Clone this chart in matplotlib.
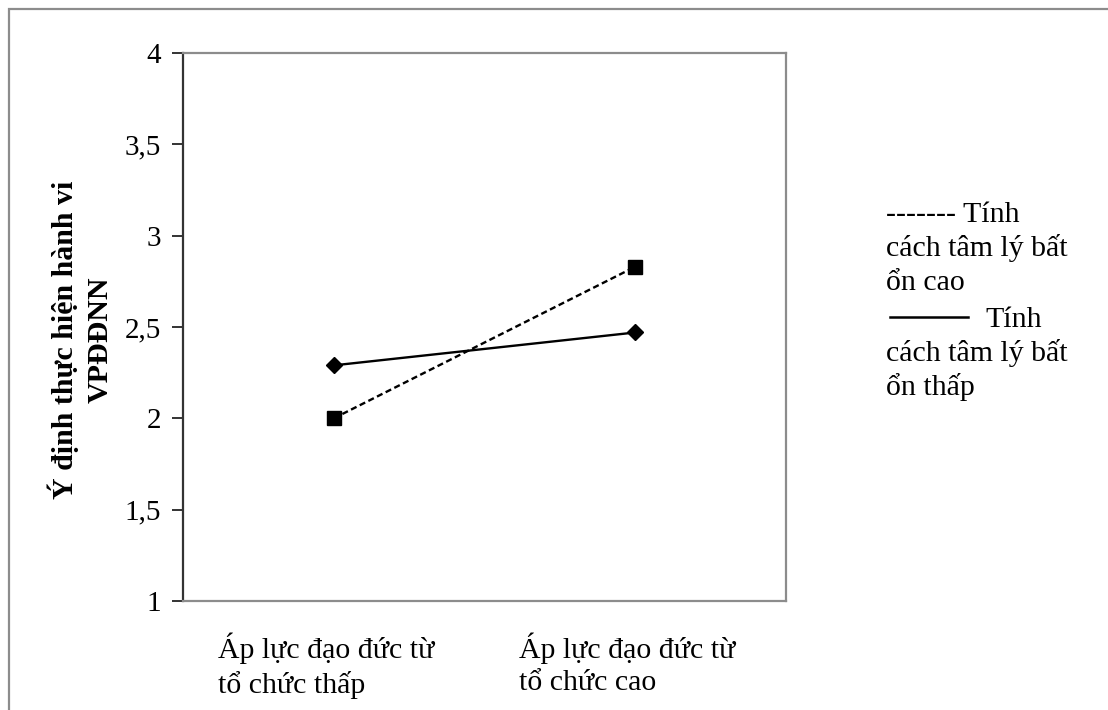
import matplotlib
matplotlib.use('Agg')
import matplotlib.pyplot as plt
from matplotlib.lines import Line2D
from matplotlib.patches import Rectangle
import matplotlib.transforms as mtransforms

plt.rcParams['font.family'] = ['Liberation Serif', 'DejaVu Serif']

categories  = ["Áp lực đạo đức từ\ntổ chức thấp", "Áp lực đạo đức từ\ntổ chức cao"]
high_values = [2.00, 2.83]   # Tính cách tâm lý bất ổn cao (dashed, squares)
low_values  = [2.29, 2.47]   # Tính cách tâm lý bất ổn thấp (solid, diamonds)
y_ticks     = [1, 1.5, 2, 2.5, 3, 3.5, 4]
y_labels    = ["1", "1,5", "2", "2,5", "3", "3,5", "4"]
y_title     = "Ý định thực hiện hành vi\nVPĐĐNN"
legend_text = ["Tính\ncách tâm lý bất\nổn cao", "Tính\ncách tâm lý bất\nổn thấp"]

W, H = 1108, 710
FS = 21.5
fig = plt.figure(figsize=(W / 100, H / 100), dpi=100)
ax = fig.add_axes([183 / W, 1 - 601 / H, (786 - 183) / W, (601 - 53) / H])

# outer frame of the picture (only top and left visible)
fig.add_artist(Rectangle((9 / W, -0.1), 1.2, 1 - 9 / H + 0.1, transform=fig.transFigure,
                         fill=False, edgecolor='#8c8c8c', linewidth=1.6))

xpos = list(range(len(categories)))
ax.plot(xpos, high_values, color='black', linestyle=(0, (2.6, 1.5)), linewidth=1.7,
        marker='s', markersize=10.5, markerfacecolor='black', markeredgecolor='black')
ax.plot(xpos, low_values, color='black', linestyle='-', linewidth=1.7,
        marker='D', markersize=8.5, markerfacecolor='black', markeredgecolor='black')

ax.set_xlim(-0.5, 1.5)
ax.set_ylim(1, 4)
ax.set_yticks(y_ticks, y_labels, fontsize=21)
ax.tick_params(axis='y', direction='out', length=8, width=1.4, colors='#333333', pad=8,
               labelcolor='black')
ax.set_xticks(xpos, categories, fontsize=FS)
ax.tick_params(axis='x', length=0, pad=23)
offset = mtransforms.ScaledTranslation(-1.16, 0, fig.dpi_scale_trans)
for lab in ax.get_xticklabels():
    lab.set_horizontalalignment('left')
    lab.set_multialignment('left')
    lab.set_linespacing(1.3)
    lab.set_transform(lab.get_transform() + offset)

for side in ['top', 'right', 'bottom']:
    ax.spines[side].set_color('#8c8c8c')
    ax.spines[side].set_linewidth(1.6)
ax.spines['left'].set_color('#333333')
ax.spines['left'].set_linewidth(1.6)

ax.set_ylabel(y_title, fontsize=FS, fontweight='bold', linespacing=1.38)
ax.yaxis.set_label_coords(-0.115, 0.476)

# legend drawn as text, like the original (text wraps under the line sample)
line_step = 34
for i, label in enumerate(legend_text):
    lines = label.split('\n')
    y0 = 222 + i * (len(lines) * line_step + 3)
    if i == 0:
        first = "------- " + lines[0]
    else:
        fig.add_artist(Line2D([890 / W, 968 / W], [1 - (y0 - 10) / H] * 2,
                              transform=fig.transFigure, color='black', linewidth=1.8))
        first = None
    for j, line in enumerate(lines):
        if j == 0:
            if first is not None:
                fig.text(886 / W, 1 - y0 / H, first, fontsize=FS, va='baseline', ha='left')
            else:
                fig.text(985 / W, 1 - y0 / H, line, fontsize=FS, va='baseline', ha='left')
        else:
            fig.text(886 / W, 1 - (y0 + j * line_step) / H, line, fontsize=FS,
                     va='baseline', ha='left')

fig.savefig('out.png', dpi=100)
